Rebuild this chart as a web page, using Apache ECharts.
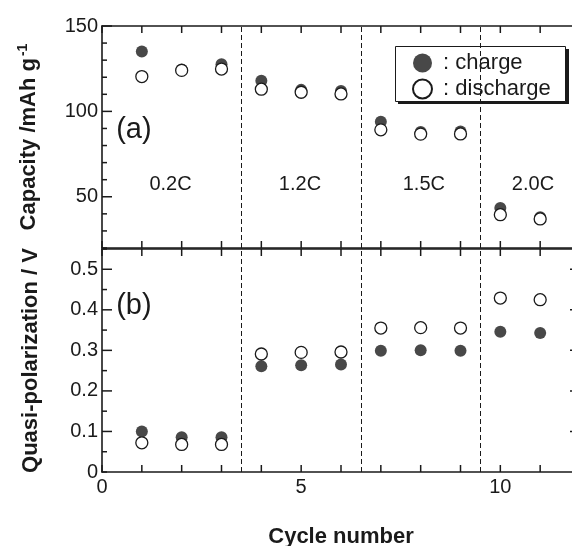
<!DOCTYPE html>
<html>
<head>
<meta charset="utf-8">
<script src="https://cdn.jsdelivr.net/npm/echarts@6.0.0/dist/echarts.min.js"></script>
<style>
  html, body { margin: 0; padding: 0; background: #fff; }
  #main { width: 572px; height: 546px; }
</style>
</head>
<body>
<div id="main"></div>
<script>
// cycle data
const cycles = [1, 2, 3, 4, 5, 6, 7, 8, 9, 10, 11];
const capCharge = [135, 124.5, 127.6, 118, 112.6, 112, 94, 88, 88.2, 43.4, 38];
const capDischarge = [120.4, 124, 124.8, 113, 111.2, 110.2, 89.2, 86.7, 86.8, 39.5, 37];
const polCharge = [0.100, 0.086, 0.086, 0.261, 0.263, 0.265, 0.299, 0.300, 0.299, 0.346, 0.343];
const polDischarge = [0.072, 0.068, 0.068, 0.291, 0.295, 0.296, 0.355, 0.356, 0.355, 0.429, 0.425];
const rateBounds = [3.5, 6.5, 9.5];
const rateNames = ['0.2C', '1.2C', '1.5C', '2.0C'];
const rateNameX = [1.72, 4.97, 8.08, 10.82];

// tick positions
const xTicks = [0, 1, 2, 3, 4, 5, 6, 7, 8, 9, 10, 11, 12];
const capTicks = [20, 30, 40, 50, 60, 70, 80, 90, 100, 110, 120, 130, 140, 150];
const capMajor = [50, 100, 150];
const polTicks = [0, 0.05, 0.1, 0.15, 0.2, 0.25, 0.3, 0.35, 0.4, 0.45, 0.5, 0.55];
const polMajor = [0.1, 0.2, 0.3, 0.4, 0.5];

const FONT = '"Liberation Sans", Arial, Helvetica, sans-serif';
const INK = '#1a1a1a';

const pairs = (ys) => cycles.map((c, i) => [c, ys[i]]);

function bounds() {
    return {
        silent: true,
        symbol: ['none', 'none'],
        label: { show: false },
        lineStyle: { color: INK, type: [5, 3], width: 1 },
        data: rateBounds.map((x) => ({ xAxis: x }))
    };
}

function xAx(grid, pos, labels) {
    return {
        type: 'value', gridIndex: grid, position: pos,
        min: 0, max: 12, interval: 1,
        axisLine: { show: true, onZero: false, lineStyle: { color: INK, width: 1.6 } },
        axisTick: { show: false },
        axisLabel: labels ? {
            margin: 5, color: INK, fontSize: 20, fontFamily: FONT,
            formatter: (v) => (v % 5 === 0 && v < 12 ? String(v) : '')
        } : { show: false },
        splitLine: { show: false }
    };
}

const chart = echarts.init(document.getElementById('main'));

chart.setOption({
    animation: false,
    backgroundColor: '#fff',
    textStyle: { fontFamily: FONT },
    grid: [
        { left: 102, top: 26, width: 478, height: 222, outerBoundsMode: 'none' },
        { left: 102, top: 249, width: 478, height: 223, outerBoundsMode: 'none' }
    ],
    legend: {
        data: ['charge', 'discharge'],
        orient: 'vertical',
        left: 395, top: 46,
        padding: [6, 10, 6, 17],
        itemWidth: 19, itemHeight: 19, itemGap: 4,
        formatter: (n) => ' : ' + n,
        textStyle: { color: INK, fontSize: 22, fontFamily: FONT }
    },
    xAxis: [
        xAx(0, 'bottom', false),
        xAx(0, 'top', false),
        Object.assign(xAx(1, 'bottom', true), {
            name: 'Cycle number', nameLocation: 'middle', nameGap: 54,
            nameTextStyle: { color: INK, fontSize: 22, fontWeight: 'bold', fontFamily: FONT }
        }),
        xAx(1, 'top', false)
    ],
    yAxis: [
        {
            type: 'value', gridIndex: 0, min: 20, max: 150, interval: 10,
            axisLine: { show: true, onZero: false, lineStyle: { color: INK, width: 1.6 } },
            axisTick: { show: false },
            axisLabel: {
                margin: 4, color: INK, fontSize: 20, fontFamily: FONT,
                formatter: (v) => (capMajor.includes(v) ? String(v) : '')
            },
            splitLine: { show: false },
            name: 'Capacity /mAh g{s|-1}', nameLocation: 'middle', nameRotate: 90, nameGap: 60,
            nameTextStyle: {
                color: INK, fontSize: 22, fontWeight: 'bold', fontFamily: FONT,
                rich: { s: { fontSize: 14, fontWeight: 'bold', fontFamily: FONT, color: INK, padding: [0, 0, 12, 2] } }
            }
        },
        {
            type: 'value', gridIndex: 1, min: 0, max: 0.55, interval: 0.1,
            axisLine: { show: true, onZero: false, lineStyle: { color: INK, width: 1.6 } },
            axisTick: { show: false },
            axisLabel: {
                margin: 4, color: INK, fontSize: 20, fontFamily: FONT,
                formatter: (v) => {
                    if (v === 0) return '0';
                    return v < 0.54 ? v.toFixed(1) : '';
                }
            },
            splitLine: { show: false },
            name: 'Quasi-polarization / V', nameLocation: 'middle', nameRotate: 90, nameGap: 60,
            nameTextStyle: { color: INK, fontSize: 22, fontWeight: 'bold', fontFamily: FONT }
        },
        {
            type: 'value', gridIndex: 1, position: 'right', min: 0, max: 0.55, interval: 0.1,
            axisLine: { show: true, onZero: false, lineStyle: { color: INK, width: 1.6 } },
            axisTick: { show: false },
            axisLabel: { show: false },
            splitLine: { show: false }
        }
    ],
    series: [
        {
            name: 'charge', type: 'scatter', xAxisIndex: 0, yAxisIndex: 0,
            symbolSize: 12, itemStyle: { color: INK },
            data: pairs(capCharge), markLine: bounds()
        },
        {
            name: 'discharge', type: 'scatter', xAxisIndex: 0, yAxisIndex: 0,
            symbolSize: 12, itemStyle: { color: '#fff', borderColor: INK, borderWidth: 1.3, opacity: 1 },
            data: pairs(capDischarge)
        },
        {
            name: 'charge', type: 'scatter', xAxisIndex: 2, yAxisIndex: 1,
            symbolSize: 12, itemStyle: { color: INK },
            data: pairs(polCharge), markLine: bounds()
        },
        {
            name: 'discharge', type: 'scatter', xAxisIndex: 2, yAxisIndex: 1,
            symbolSize: 12, itemStyle: { color: '#fff', borderColor: INK, borderWidth: 1.3, opacity: 1 },
            data: pairs(polDischarge)
        }
    ]
});

// ticks (inward, as in the figure), panel tags, C-rate labels and the legend frame
const px = (grid, pt) => chart.convertToPixel({ gridIndex: grid }, pt);
const els = [
    { type: 'rect', z: -1, shape: { x: 398, y: 49, width: 171, height: 55 }, style: { fill: INK }, silent: true },
    { type: 'rect', z: -1, shape: { x: 395.5, y: 46.5, width: 170, height: 55 }, style: { fill: '#fff', stroke: INK, lineWidth: 1 }, silent: true }
];
const tick = (x1, y1, x2, y2) => els.push({
    type: 'line', silent: true, z: 100,
    shape: { x1: x1, y1: y1, x2: x2, y2: y2 },
    style: { stroke: INK, lineWidth: 1.5 }
});

const panels = [[0, 20, 150], [1, 0, 0.55]];
panels.forEach(([g, lo, hi]) => {
    xTicks.forEach((v) => {
        const b = px(g, [v, lo]);
        const t = px(g, [v, hi]);
        tick(b[0], b[1], b[0], b[1] - 7);
        tick(t[0], t[1], t[0], t[1] + 7);
    });
});
capTicks.forEach((v) => {
    const p = px(0, [0, v]);
    tick(p[0], p[1], p[0] + (capMajor.includes(v) ? 10 : 5), p[1]);
});
polTicks.forEach((v) => {
    const major = polMajor.includes(v);
    const p = px(1, [0, v]);
    tick(p[0], p[1], p[0] + (major ? 10 : 5), p[1]);
    if (major) {
        const r = px(1, [12, v]);
        tick(r[0], r[1], r[0] - 10, r[1]);
    }
});

const notes = rateNames.map((t, i) => ({ grid: 0, at: [rateNameX[i], 57], text: t, size: 20 }));
notes.push({ grid: 0, at: [0.8, 89], text: '(a)', size: 29 });
notes.push({ grid: 1, at: [0.8, 0.409], text: '(b)', size: 29 });
notes.forEach((n) => {
    const p = px(n.grid, n.at);
    els.push({
        type: 'text', x: p[0], y: p[1], silent: true,
        style: {
            text: n.text, fill: INK, fontSize: n.size, fontFamily: FONT,
            align: 'center', verticalAlign: 'middle'
        }
    });
});

chart.setOption({ graphic: els });
</script>
</body>
</html>
